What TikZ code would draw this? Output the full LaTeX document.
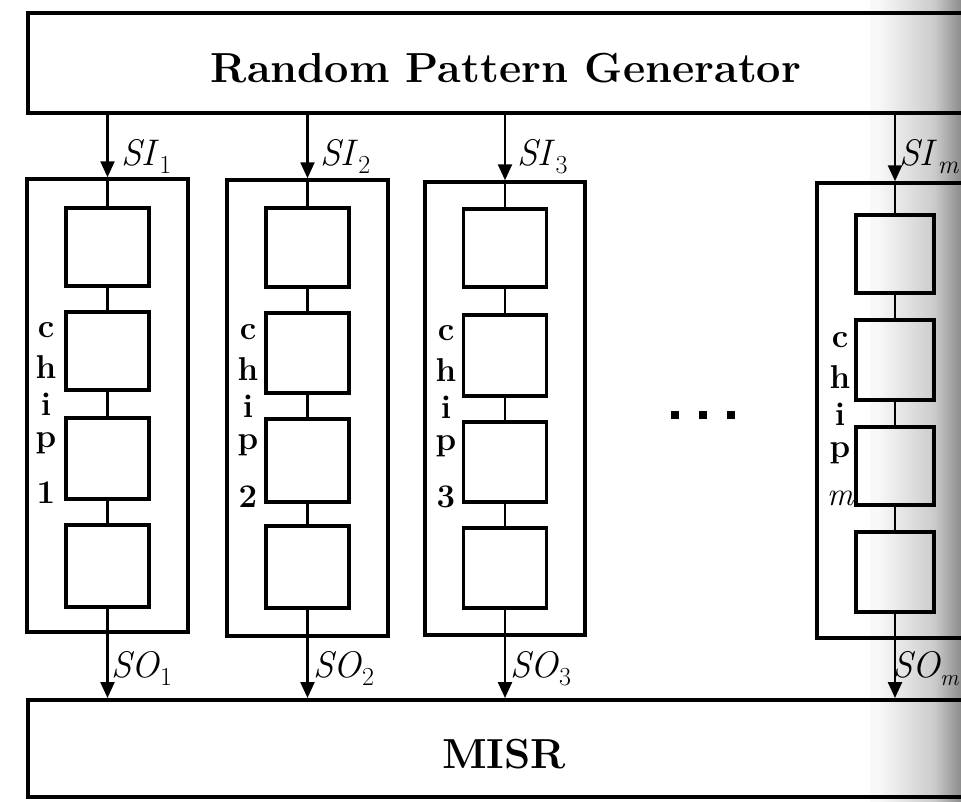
\documentclass[tikz,border=0pt]{standalone}
\usetikzlibrary{arrows.meta}
\pgfdeclarehorizontalshading{scanedge}{100bp}{color(0bp)=(white); color(30bp)=(white!97!black); color(60bp)=(white!80!black); color(78bp)=(white!50!black); color(88bp)=(white!15!black); color(100bp)=(black)}
\newcommand{\sig}[2]{\textit{#1}\raisebox{-0.22em}{\fontsize{26}{28}\selectfont #2}}
\tikzset{
  bigbox/.style={draw, line width=4pt, inner sep=0pt, text height=38pt, text depth=0pt,
    font=\fontsize{42}{46}\selectfont\bfseries},
  chipbox/.style={draw, line width=3.5pt, inner sep=0pt},
  cell/.style={draw, line width=3.5pt, inner sep=0pt, minimum width=83pt},
  wire/.style={line width=2.4pt},
  arr/.style={line width=2.4pt, -{Triangle[length=16pt,width=14pt]}},
  lab/.style={inner sep=0pt, anchor=base west, font=\fontsize{37}{40}\selectfont},
  letter/.style={inner sep=0pt, anchor=base, font=\fontsize{33}{36}\selectfont\bfseries},
  dotsq/.style={fill=black, inner sep=0pt, minimum size=8pt}
}
\begin{document}
\begin{tikzpicture}[x=1pt,y=-1pt]
\useasboundingbox (0,0) rectangle (961,801);
\clip (0,0) rectangle (961,801);
\fill[white] (0,0) rectangle (961,801);
\shade[shading=scanedge] (870,-5) rectangle (961,806);

% Random Pattern Generator and MISR
\node[bigbox, minimum width=956pt, minimum height=100pt] (rpg) at (506,63)
  {\scalebox{1.03}[1]{Random Pattern Generator}};
\node[bigbox, minimum width=952pt, minimum height=97pt, text height=39pt] (misr) at (504,748.5) {MISR};

% chip boxes
\node[chipbox, minimum width=161pt, minimum height=453pt] (c1) at (107.5,405.5) {};
\node[chipbox, minimum width=161pt, minimum height=456pt] (c2) at (307.5,408) {};
\node[chipbox, minimum width=160pt, minimum height=453pt] (c3) at (505,408.5) {};
\node[chipbox, minimum width=156pt, minimum height=455pt] (cm) at (895,410.5) {};

% cells of chip 1
\node[cell, minimum height=78pt] (c1b1) at (107.5,247) {};
\node[cell, minimum height=78pt] (c1b2) at (107.5,351) {};
\node[cell, minimum height=81pt] (c1b3) at (107.5,458.5) {};
\node[cell, minimum height=82pt] (c1b4) at (107.5,566) {};
% cells of chip 2
\node[cell, minimum height=79pt] (c2b1) at (307.5,247.5) {};
\node[cell, minimum height=80pt] (c2b2) at (307.5,353) {};
\node[cell, minimum height=83pt] (c2b3) at (307.5,460.5) {};
\node[cell, minimum height=82pt] (c2b4) at (307.5,567) {};
% cells of chip 3
\node[cell, minimum height=78pt] (c3b1) at (505,248) {};
\node[cell, minimum height=81pt] (c3b2) at (505,355.5) {};
\node[cell, minimum height=80pt] (c3b3) at (505,462) {};
\node[cell, minimum height=80pt] (c3b4) at (505,568) {};
% cells of chip m
\node[cell, minimum width=78pt, minimum height=78pt] (cmb1) at (895,254) {};
\node[cell, minimum width=78pt, minimum height=80pt] (cmb2) at (895,360) {};
\node[cell, minimum width=78pt, minimum height=78pt] (cmb3) at (895,466) {};
\node[cell, minimum width=78pt, minimum height=80pt] (cmb4) at (895,572) {};

% scan chains
\foreach \c in {c1,c2,c3,cm}{
  \draw[arr] (rpg.south -| \c.north) -- (\c.north);
  \draw[wire] (\c.north) -- (\c b1.north);
  \draw[wire] (\c b1.south) -- (\c b2.north);
  \draw[wire] (\c b2.south) -- (\c b3.north);
  \draw[wire] (\c b3.south) -- (\c b4.north);
  \draw[wire] (\c b4.south) -- (\c.south);
  \draw[arr] (\c.south) -- (\c.south |- misr.north);
}

% SI / SO labels
\node[lab] (si1) at (121,165) {\sig{SI}{1}};
\node[lab] (si2) at (320,165) {\sig{SI}{2}};
\node[lab] (si3) at (517,165) {\sig{SI}{3}};
\node[lab] (sim) at (899,165) {\sig{SI}{\itshape m}};
\node[lab] (so1) at (111,677) {\sig{SO}{1}};
\node[lab] (so2) at (313,677) {\sig{SO}{2}};
\node[lab] (so3) at (510,677) {\sig{SO}{3}};
\node[lab] (som) at (892,677) {\textit{SO}\kern-1pt\raisebox{-0.22em}{\fontsize{23}{25}\selectfont\itshape m}};

% vertical chip names
\foreach \n/\cx/\dy/\dig/\dyy in {1/46/0/1/503, 2/248/2/2/507, 3/446/3/3/507, m/840/10/\mdseries\itshape m/505}{
  \node[letter] (l\n c) at (\cx,337+\dy) {c};
  \node[letter] (l\n h) at (\cx,378+\dy) {h};
  \node[letter] (l\n i) at (\cx,415+\dy) {i};
  \node[letter] (l\n p) at (\cx,447+\dy) {p};
  \node[letter] (l\n d) at (\cx,\dyy) {\dig};
}

% dots
\node[dotsq] (d1) at (675,415) {};
\node[dotsq] (d2) at (703,415) {};
\node[dotsq] (d3) at (731,415) {};
\end{tikzpicture}
\end{document}
